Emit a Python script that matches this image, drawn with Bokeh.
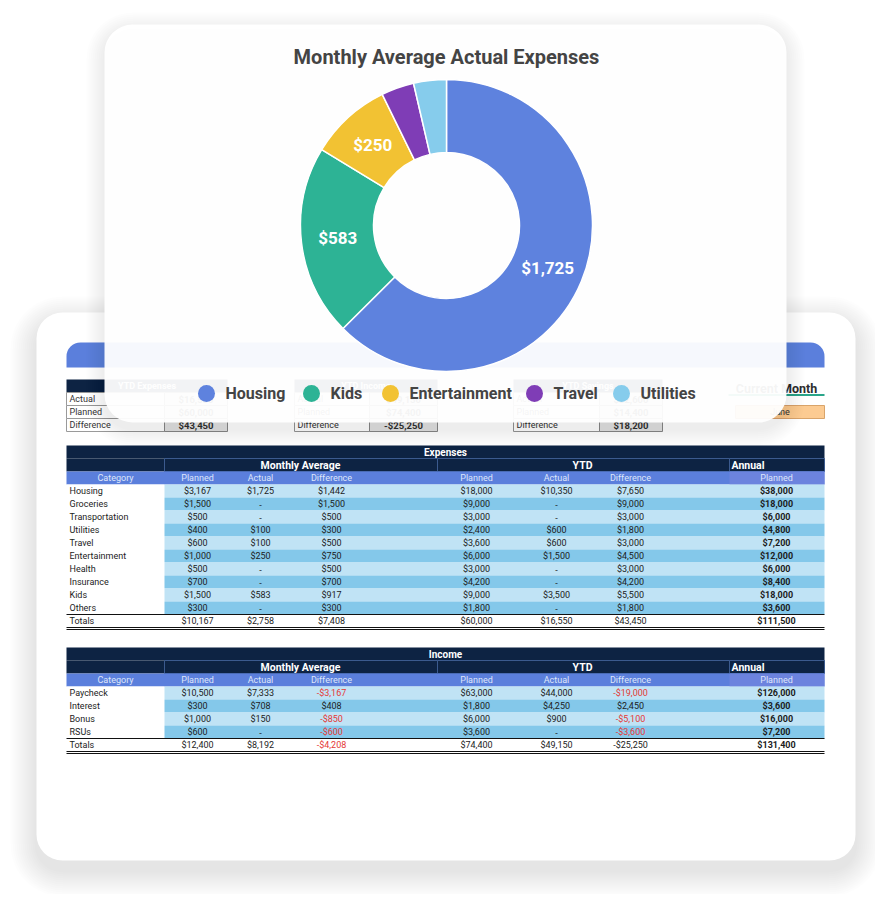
import math
from collections import defaultdict

from bokeh.plotting import figure
from bokeh.models import Range1d
from bokeh.core.properties import value
from bokeh.embed import file_html
from bokeh.resources import INLINE

# ---------------- data ----------------
chart_title = "Monthly Average Actual Expenses"
donut_cats = ["Housing", "Kids", "Entertainment", "Travel", "Utilities"]
donut_vals = [1725, 583, 250, 100, 100]
donut_colors = ["#5e82de", "#2db395", "#f2c233", "#7f3db6", "#86ccec"]

exp_cats = ["Housing", "Groceries", "Transportation", "Utilities", "Travel",
            "Entertainment", "Health", "Insurance", "Kids", "Others"]
exp_mon_planned = [3167, 1500, 500, 400, 600, 1000, 500, 700, 1500, 300]
exp_mon_actual = [1725, 0, 0, 100, 100, 250, 0, 0, 583, 0]
exp_mon_diff = [1442, 1500, 500, 300, 500, 750, 500, 700, 917, 300]
exp_ytd_planned = [18000, 9000, 3000, 2400, 3600, 6000, 3000, 4200, 9000, 1800]
exp_ytd_actual = [10350, 0, 0, 600, 600, 1500, 0, 0, 3500, 0]
exp_ytd_diff = [7650, 9000, 3000, 1800, 3000, 4500, 3000, 4200, 5500, 1800]
exp_annual = [38000, 18000, 6000, 4800, 7200, 12000, 6000, 8400, 18000, 3600]
exp_totals = [10167, 2758, 7408, 60000, 16550, 43450, 111500]

inc_cats = ["Paycheck", "Interest", "Bonus", "RSUs"]
inc_mon_planned = [10500, 300, 1000, 600]
inc_mon_actual = [7333, 708, 150, 0]
inc_mon_diff = [-3167, 408, -850, -600]
inc_ytd_planned = [63000, 1800, 6000, 3600]
inc_ytd_actual = [44000, 4250, 900, 0]
inc_ytd_diff = [-19000, 2450, -5100, -3600]
inc_annual = [126000, 3600, 16000, 7200]
inc_totals = [12400, 8192, -4208, 74400, 49150, -25250, 131400]
inc_totals_red = [False, False, True, False, False, False, False]

summary_titles = ["YTD Expenses", "YTD Income", "YTD Savings"]
summary_actual = [16550, 49150, 32600]
summary_planned = [60000, 74400, 14400]
summary_diff = [43450, -25250, 18200]
current_month = "June"

col_headers = ["Planned", "Actual", "Difference", "Planned", "Actual", "Difference", "Planned"]

# ---------------- styles / layout ----------------
FONT = value("Roboto")
NAVY = "#0d2343"
HEAD_BLUE = "#5b7fdc"
HEAD_BLUE2 = "#6c83de"
HEAD_TXT = "#dfe6fb"
ROW_LIGHT = "#c0e3f5"
ROW_DARK = "#84c8ea"
INK = "#1c1c1c"
RED = "#e53935"
BORDER = "#3b5a8e"

W, H = 875, 894
p = figure(width=W, height=H, x_range=Range1d(0, W), y_range=Range1d(910 - H, 910),
           output_backend="svg", toolbar_location=None,
           x_axis_type=None, y_axis_type=None, min_border=0)
p.outline_line_color = None
p.grid.visible = False
p.background_fill_color = "white"
p.border_fill_color = "white"


def Y(s):
    return 910 - s


def box(l, r, t, b, color, alpha=1.0, radius=0, line_color=None, line_width=1):
    if not isinstance(radius, tuple):
        radius = int(round(radius))
    p.quad(left=[l], right=[r], top=[Y(t)], bottom=[Y(b)], fill_color=color,
           fill_alpha=alpha, line_color=line_color, line_width=line_width,
           border_radius=radius)


def seg(x0, y0, x1, y1, color, width=1):
    p.segment(x0=[x0], y0=[Y(y0)], x1=[x1], y1=[Y(y1)], line_color=color, line_width=width)


_pending = defaultdict(lambda: {"x": [], "y": [], "text": []})


def txt(x, y, s, size=9, color=INK, align="left", bold=False):
    d = _pending[(size, color, align, bold)]
    d["x"].append(x)
    d["y"].append(Y(y))
    d["text"].append(s)


def flush():
    for (size, color, align, bold), d in _pending.items():
        p.text(x=d["x"], y=d["y"], text=d["text"], text_font=FONT,
               text_font_size=f"{size}px", text_color=color, text_align=align,
               text_baseline="middle", text_font_style="bold" if bold else "normal")
    _pending.clear()


def money(v):
    if v == 0:
        return "-"
    s = f"${abs(v):,}"
    return "-" + s if v < 0 else s


def shadow(l, r, t, b, radius, spread, offset, alpha, n):
    for k in range(n):
        e = spread * (k + 1) / n
        box(l - e, r + e, t - e + offset, b + e + offset, "black", alpha=alpha, radius=radius + e)


# ---------------- back card ----------------
shadow(36, 855, 312, 860, 26, 26, 10, 0.007, 13)
box(36, 855, 312, 860, "white", radius=26)

# banner
box(66, 824, 342, 367, HEAD_BLUE, radius=(14, 14, 0, 0))

# summary boxes
summary_layout = [(66, 164, 227), (294, 369, 437), (513, 599, 662)]
for k, (l, m, r) in enumerate(summary_layout):
    box(l, r, 379, 392, NAVY)
    txt((l + r) / 2, 385.5, summary_titles[k], 9, "white", "center", True)
    rows = [("Actual", summary_actual[k]), ("Planned", summary_planned[k]),
            ("Difference", summary_diff[k])]
    for i, (lab, v) in enumerate(rows):
        t = 392 + 13 * i
        box(l, m, t, t + 13, "white", line_color="#9a9a9a")
        box(m, r, t, t + 13, "#e3e3e3", line_color="#8a8a8a")
        txt(l + 3, t + 6.5, lab, 9, "#333333")
        txt((m + r) / 2, t + 6.5, money(v), 9.5, "#333333", "center", True)

# current month
txt(776, 388, "Current Month", 12.5, "#2e2e2e", "center", True)
seg(728, 394.5, 824, 394.5, "#2aa58a", 2)
box(735, 824, 405, 418, "#fccb92", line_color="#d9a46a")
txt(779.5, 411.5, current_month, 9, "#333333", "center")

# ---------------- tables ----------------
col_x = [197, 260, 331, 476, 556, 630, 776]
L, R = 66, 824
RH = 13


def draw_table(top, title, cats, cols, totals, totals_red):
    box(L, R, top, top + RH, NAVY)
    txt(445, top + 6.5, title, 10, "white", "center", True)
    box(L, R, top + RH, top + 2 * RH, NAVY)
    for (a, b) in [(164, 437), (437, 729), (729, R)]:
        box(a, b, top + RH, top + 2 * RH, NAVY, line_color=BORDER, line_width=1)
    txt(300, top + RH + 6.5, "Monthly Average", 10.5, "white", "center", True)
    txt(582, top + RH + 6.5, "YTD", 10.5, "white", "center", True)
    txt(731, top + RH + 6.5, "Annual", 10.5, "white", "left", True)
    h = top + 2 * RH
    box(L, R, h, h + RH, HEAD_BLUE)
    box(729, R, h, h + RH, HEAD_BLUE2)
    txt(115, h + 6.5, "Category", 9, HEAD_TXT, "center")
    for x, name in zip(col_x, col_headers):
        txt(x, h + 6.5, name, 9, HEAD_TXT, "center")
    for i, c in enumerate(cats):
        t = top + 3 * RH + i * RH
        box(L, 164, t, t + RH, "white")
        box(164, R, t, t + RH, ROW_LIGHT if i % 2 == 0 else ROW_DARK)
        txt(69, t + 6.5, c, 9, INK)
        for j, col in enumerate(cols):
            v = col[i]
            txt(col_x[j], t + 6.5, money(v), 9, RED if v < 0 else INK, "center", j == 6)
    t = top + 3 * RH + len(cats) * RH
    seg(L, t, R, t, "#111111", 1)
    txt(69, t + 6.5, "Totals", 9, INK)
    for j, v in enumerate(totals):
        txt(col_x[j], t + 6.5, money(v), 9, RED if totals_red[j] else INK, "center", j == 6)
    seg(L, t + RH, R, t + RH, "#111111", 1)
    seg(L, t + RH + 2, R, t + RH + 2, "#111111", 1)


draw_table(445, "Expenses", exp_cats,
           [exp_mon_planned, exp_mon_actual, exp_mon_diff, exp_ytd_planned,
            exp_ytd_actual, exp_ytd_diff, exp_annual],
           exp_totals, [False] * 7)
draw_table(647, "Income", inc_cats,
           [inc_mon_planned, inc_mon_actual, inc_mon_diff, inc_ytd_planned,
            inc_ytd_actual, inc_ytd_diff, inc_annual],
           inc_totals, inc_totals_red)
flush()

# ---------------- top card ----------------
shadow(104, 786, 24, 422, 28, 18, 6, 0.007, 9)
box(104, 786, 24, 422, "white", alpha=0.95, radius=28)

txt(446, 56, chart_title, 20, "#444444", "center", True)

# donut
cx, cy = 446, 225
total = sum(donut_vals)
starts, ends = [], []
cum = 0
for v in donut_vals:
    starts.append(math.pi / 2 - 2 * math.pi * cum / total)
    cum += v
    ends.append(math.pi / 2 - 2 * math.pi * cum / total)
p.annular_wedge(x=cx, y=Y(cy), inner_radius=73, outer_radius=146,
                start_angle=starts, end_angle=ends, direction="clock",
                fill_color=donut_colors, line_color="white", line_width=1.5)
for v, a0, a1 in zip(donut_vals, starts, ends):
    if v / total > 0.06:
        am = (a0 + a1) / 2
        rm = (73 + 146) / 2
        txt(cx + rm * math.cos(am), cy - rm * math.sin(am), money(v), 17, "white", "center", True)

# legend
legend_x = [206, 311, 390, 534, 621]
p.scatter(x=legend_x, y=[Y(393)] * len(legend_x), size=17, marker="circle",
          fill_color=donut_colors, line_color=None)
for x, c in zip(legend_x, donut_cats):
    txt(x + 19, 393, c, 16, "#444444", "left", True)
flush()

open("out.html", "w").write(file_html(p, INLINE))
